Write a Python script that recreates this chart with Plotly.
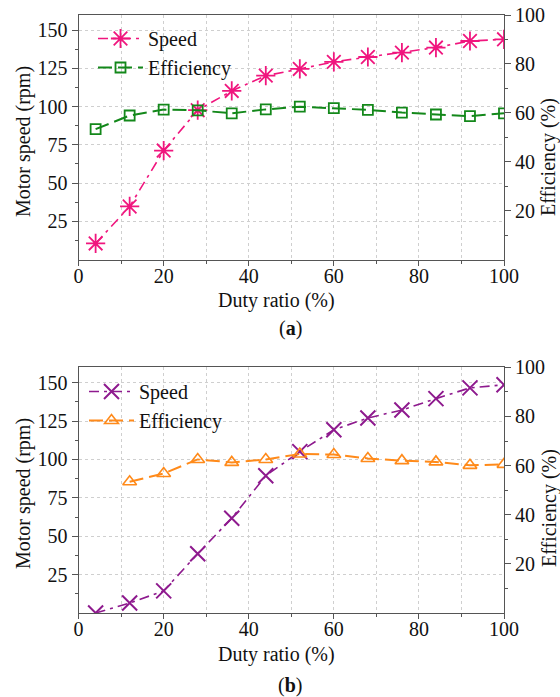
import plotly.graph_objects as go

# ---------------- data ----------------
duty = [4, 12, 20, 28, 36, 44, 52, 60, 68, 76, 84, 92, 100]

speed_a = [10.5, 34.7, 71.3, 97.7, 110.3, 120.3, 124.7, 129.3, 132.5, 135.4, 138.7, 143.0, 144.1]
eff_a = [53.3, 58.9, 61.3, 61.0, 59.8, 61.4, 62.5, 61.9, 61.2, 60.1, 59.3, 58.6, 59.8]

speed_b = [0.0, 6.5, 14.4, 38.6, 61.7, 89.4, 105.1, 119.3, 127.0, 132.2, 139.6, 146.6, 148.6]
duty_eff_b = [12, 20, 28, 36, 44, 52, 60, 68, 76, 84, 92, 100]
eff_b = [53.4, 56.8, 62.5, 61.3, 62.5, 64.7, 64.5, 62.9, 62.0, 61.5, 60.1, 60.5]

x_ticks = [0, 20, 40, 60, 80, 100]
left_ticks = [25, 50, 75, 100, 125, 150]
right_ticks = [20, 40, 60, 80, 100]

# ---------------- style ----------------
W, H = 560, 697
FONT = "Liberation Serif"
PINK = "#F0167E"
GREEN = "#13881A"
PURPLE = "#8E1A8E"
ORANGE = "#FF8A1A"
AX = "#555555"
GRID = "#CFCFCF"

def px_x(p):
    return p / W

def px_y(p):
    return 1 - p / H

xdom = [px_x(78.6), px_x(504)]
top_dom = [px_y(259.5), px_y(15)]
bot_dom = [px_y(613), px_y(367.3)]

fig = go.Figure()

fig.add_trace(go.Scatter(
    x=duty, y=speed_a, name="Speed", xaxis="x", yaxis="y", legend="legend",
    mode="lines+markers",
    line=dict(color=PINK, width=1.6, dash="10px,5px,3px,5px"),
    marker=dict(symbol="asterisk-open", size=16, line=dict(color=PINK, width=1.8)),
))
fig.add_trace(go.Scatter(
    x=duty, y=eff_a, name="Efficiency", xaxis="x", yaxis="y2", legend="legend",
    mode="lines+markers",
    line=dict(color=GREEN, width=2, dash="14px,6px"),
    marker=dict(symbol="square-open", size=10, color=GREEN, line=dict(color=GREEN, width=1.8)),
))
fig.add_trace(go.Scatter(
    x=duty, y=speed_b, name="Speed", xaxis="x2", yaxis="y3", legend="legend2",
    mode="lines+markers",
    line=dict(color=PURPLE, width=1.6, dash="10px,5px,3px,5px"),
    marker=dict(symbol="x-thin-open", size=15, line=dict(color=PURPLE, width=2)),
))
fig.add_trace(go.Scatter(
    x=duty_eff_b, y=eff_b, name="Efficiency", xaxis="x2", yaxis="y4", legend="legend2",
    mode="lines+markers",
    line=dict(color=ORANGE, width=2, dash="14px,6px"),
    marker=dict(symbol="triangle-up-open", size=12, color=ORANGE, line=dict(color=ORANGE, width=1.6)),
))

tickfont = dict(family=FONT, size=20, color="#111111")

def xaxis_cfg(anchor):
    return dict(
        domain=xdom, anchor=anchor, range=[0, 100], automargin=False,
        tickvals=x_ticks, ticks="outside", ticklen=5, tickcolor=AX,
        ticklabelstandoff=-7,
        showline=True, linecolor=AX, linewidth=1.2, mirror=True,
        showgrid=True, gridcolor=GRID, griddash="dot", gridwidth=1,
        minor=dict(dtick=10, tick0=0, ticks="outside", ticklen=3, tickcolor=AX,
                   showgrid=True, gridcolor=GRID, griddash="dot"),
        tickfont=tickfont, zeroline=False,
    )

def yleft_cfg(anchor, dom):
    return dict(
        domain=dom, anchor=anchor, range=[0, 160], automargin=False,
        tickvals=left_ticks, ticks="outside", ticklen=6, tickcolor=AX,
        showline=True, linecolor=AX, linewidth=1.2,
        showgrid=True, gridcolor=GRID, griddash="dot", gridwidth=1,
        minor=dict(tickvals=[12.5, 37.5, 62.5, 87.5, 112.5, 137.5],
                   ticks="outside", ticklen=3, tickcolor=AX, showgrid=False),
        tickfont=tickfont, zeroline=False,
    )

def yright_cfg(anchor, overlay):
    return dict(
        overlaying=overlay, anchor=anchor, side="right", range=[0, 100], automargin=False,
        tickvals=right_ticks, ticks="outside", ticklen=6, tickcolor=AX,
        showline=True, linecolor=AX, linewidth=1.2,
        showgrid=False,
        minor=dict(tickvals=[10, 30, 50, 70, 90], ticks="outside", ticklen=3,
                   tickcolor=AX, showgrid=False),
        tickfont=tickfont, zeroline=False,
    )

legend_common = dict(
    font=dict(family=FONT, size=20, color="#111111"),
    bgcolor="rgba(0,0,0,0)", borderwidth=0, xanchor="left", yanchor="top",
    itemwidth=45, tracegroupgap=0,
)

annos = []
def add_text(text, x, y, angle=0, size=20):
    annos.append(dict(text=text, x=px_x(x), y=px_y(y), xref="paper", yref="paper",
                      showarrow=False, textangle=angle, xanchor="center", yanchor="middle",
                      font=dict(family=FONT, size=size, color="#111111")))

add_text("Motor speed (rpm)", 23, 142, -90)
add_text("Efficiency (%)", 549, 157, -90)
add_text("Duty ratio (%)", 276, 300)
add_text("(<b>a</b>)", 290, 328)
add_text("Motor speed (rpm)", 23, 494, -90)
add_text("Efficiency (%)", 549, 508, -90)
add_text("Duty ratio (%)", 276, 654)
add_text("(<b>b</b>)", 290, 685)

fig.update_layout(
    width=W, height=H,
    margin=dict(l=0, r=0, t=0, b=0, autoexpand=False),
    paper_bgcolor="white", plot_bgcolor="white",
    font=dict(family=FONT, size=20, color="#111111"),
    xaxis=xaxis_cfg("y"),
    yaxis=yleft_cfg("x", top_dom),
    yaxis2=yright_cfg("x", "y"),
    xaxis2=xaxis_cfg("y3"),
    yaxis3=yleft_cfg("x2", bot_dom),
    yaxis4=yright_cfg("x2", "y3"),
    legend=dict(x=px_x(93), y=px_y(19), **legend_common),
    legend2=dict(x=px_x(84), y=px_y(372), **legend_common),
    annotations=annos,
    showlegend=True,
)

fig.write_html(
    "out.html",
    config={"displayModeBar": False},
    post_script=(
        "document.body.style.margin='0';document.body.style.overflow='hidden';"
        "var d=document.getElementById('{plot_id}');"
        "d.style.position='absolute';d.style.left='0px';d.style.top='0px';"
    ),
)
